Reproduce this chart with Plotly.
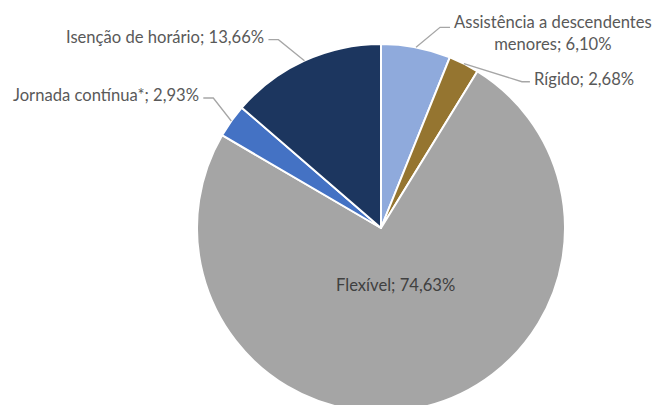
import math
import plotly.graph_objects as go

# Distribution of working-time regimes (percent)
categories = ["Assistência a descendentes menores", "Rígido", "Flexível",
              "Jornada contínua*", "Isenção de horário"]
values = [6.10, 2.68, 74.63, 2.93, 13.66]
colors = ["#8FAADC", "#957530", "#A5A5A5", "#4472C4", "#1C365F"]

# Label layout per slice: (mode, elbow dx, elbow dy, horizontal run) in px
label_style = [
    ("out", 24, -20, 10),
    ("out", 58, 18, 8),
    ("in", 0.32, 0, 0),
    ("out", -18, -23, -10),
    ("out", -26, -21, -10),
]
# Display names with manual line breaks
display_names = ["Assistência a descendentes<br>menores", "Rígido", "Flexível",
                 "Jornada contínua*", "Isenção de horário"]

W, H = 652, 432
CX, CY, R = 381, 228, 184      # pie centre / radius in px (from top-left)
FONT = "Lato"
FS = 16.6
TXT = "#595959"


def px(x, y):
    return x / W, (H - y) / H


fig = go.Figure(go.Pie(
    labels=categories,
    values=values,
    sort=False,
    direction="clockwise",
    rotation=0,
    marker=dict(colors=colors, line=dict(color="white", width=2)),
    textinfo="none",
    hoverinfo="skip",
    showlegend=False,
    domain=dict(x=[(CX - R) / W, (CX + R) / W],
                y=[(H - CY - R) / H, (H - CY + R) / H]),
))

total = sum(values)
cum = 0.0
annotations = []
shapes = []
for name, v, (mode, a, b, run) in zip(display_names, values, label_style):
    mid = (cum + v / 2) / total * 2 * math.pi
    cum += v
    text = f"{name}; {v:.2f}%".replace(".", ",")
    sx, sy = math.sin(mid), -math.cos(mid)
    if mode == "in":
        x, y = CX + sx * R * a, CY + sy * R * a
        ax, ay = px(x, y)
        annotations.append(dict(x=ax, y=ay, xref="paper", yref="paper",
                                text=text, showarrow=False,
                                xanchor="center", yanchor="middle",
                                font=dict(family=FONT, size=FS, color="#404040")))
        continue
    ex, ey = CX + sx * R, CY + sy * R
    kx, ky = ex + a, ey + b
    tx = kx + run
    p = [px(ex, ey), px(kx, ky), px(tx, ky)]
    path = "M {} {} L {} {} L {} {}".format(*[c for pt in p for c in pt])
    shapes.append(dict(type="path", xref="paper", yref="paper", path=path,
                       line=dict(color="#A6A6A6", width=1.3)))
    right = run > 0
    lx, ly = px(tx + (2 if right else -2), ky - 3)
    annotations.append(dict(x=lx, y=ly, xref="paper", yref="paper",
                            text=text, showarrow=False,
                            xanchor="left" if right else "right",
                            yanchor="middle", align="center",
                            font=dict(family=FONT, size=FS, color=TXT)))

# Two-line label sits with its block centred on the elbow
annotations[0]["y"] = px(0, 33)[1]

fig.update_layout(
    width=W, height=H,
    margin=dict(l=0, r=0, t=0, b=0),
    paper_bgcolor="white",
    plot_bgcolor="white",
    annotations=annotations,
    shapes=shapes,
)

fig.write_html(
    "out.html",
    post_script="document.documentElement.style.overflow='hidden';"
                "document.body.style.overflow='hidden';"
                "document.body.style.margin='0';",
)
